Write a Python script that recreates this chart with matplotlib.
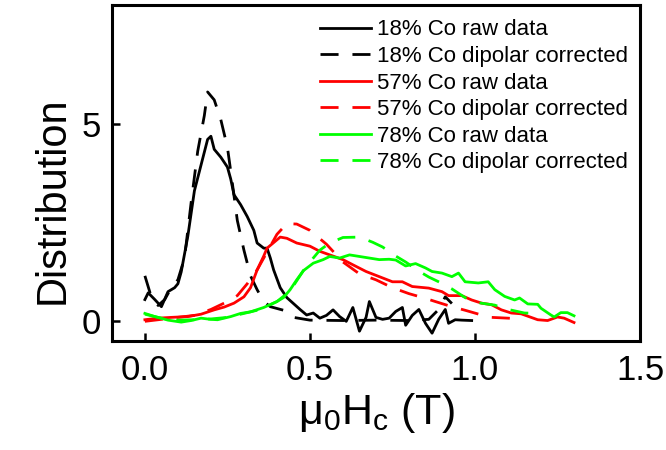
import matplotlib
matplotlib.use('Agg')
import matplotlib.pyplot as plt

plt.rcParams['font.family'] = ['Liberation Sans', 'DejaVu Sans']
plt.rcParams['mathtext.fontset'] = 'custom'
plt.rcParams['mathtext.rm'] = 'Liberation Sans'
plt.rcParams['mathtext.it'] = 'Liberation Sans:italic'

# 18% Co ###################################################
co18_raw_x = [0.00, 0.01, 0.03, 0.05, 0.07, 0.09, 0.10, 0.11, 0.13, 0.15,
              0.17, 0.19, 0.20, 0.21, 0.23, 0.25, 0.26, 0.27, 0.29, 0.31,
              0.33, 0.34, 0.36, 0.37, 0.38, 0.39, 0.41, 0.43, 0.45, 0.47,
              0.49, 0.51, 0.53, 0.55, 0.57, 0.59, 0.61, 0.63, 0.65, 0.67,
              0.68, 0.70, 0.72, 0.74, 0.76, 0.78, 0.79, 0.81, 0.83, 0.85,
              0.87, 0.89, 0.91, 0.92, 0.94, 0.96, 0.99]
co18_raw_y = [0.55, 0.72, 0.55, 0.37, 0.75, 0.85, 0.95, 1.25, 2.15, 3.30,
              3.95, 4.60, 4.68, 4.35, 4.15, 3.90, 3.60, 3.20, 2.95, 2.65,
              2.30, 1.98, 1.85, 1.85, 1.60, 1.30, 0.85, 0.60, 0.45, 0.30,
              0.16, 0.21, 0.08, 0.15, 0.29, 0.12, 0.00, 0.35, -0.25, 0.10,
              0.50, 0.10, 0.05, 0.08, 0.25, 0.35, -0.10, 0.15, 0.30, -0.05,
              -0.30, 0.05, 0.30, -0.05, 0.04, 0.03, 0.02]

co18_dip_x = [0.00, 0.02, 0.04, 0.06, 0.08, 0.10, 0.12, 0.14, 0.16, 0.18,
              0.19, 0.21, 0.23, 0.25, 0.26, 0.28, 0.30, 0.32, 0.34, 0.36,
              0.38, 0.42, 0.45, 0.50, 0.60, 0.70, 0.80, 0.86, 0.89, 0.91,
              0.93]
co18_dip_y = [1.15, 0.60, 0.40, 0.55, 0.85, 1.05, 1.60, 3.00, 4.30, 5.20,
              5.80, 5.60, 5.10, 4.40, 3.80, 2.55, 1.80, 1.15, 0.80, 0.50,
              0.37, 0.28, 0.10, 0.03, 0.02, 0.03, 0.02, 0.05, 0.30, 0.62,
              0.45]

# 57% Co ###################################################
co57_raw_x = [0.00, 0.04, 0.08, 0.13, 0.17, 0.21, 0.24, 0.27, 0.30, 0.32,
              0.34, 0.36, 0.37, 0.40, 0.41, 0.43, 0.46, 0.50, 0.53, 0.56,
              0.60, 0.63, 0.67, 0.71, 0.75, 0.78, 0.81, 0.86, 0.90, 0.92,
              0.96, 0.99, 1.02, 1.05, 1.08, 1.11, 1.14, 1.17, 1.19, 1.22,
              1.25, 1.27, 1.30]
co57_raw_y = [0.04, 0.08, 0.10, 0.12, 0.18, 0.29, 0.36, 0.46, 0.62, 0.85,
              1.30, 1.65, 1.85, 2.06, 2.13, 2.10, 1.98, 1.90, 1.77, 1.68,
              1.56, 1.43, 1.26, 1.13, 1.00, 1.00, 0.88, 0.84, 0.75, 0.65,
              0.65, 0.54, 0.46, 0.42, 0.29, 0.21, 0.19, 0.10, 0.04, 0.02,
              0.11, 0.08, -0.03]

co57_dip_x = [0.00, 0.05, 0.10, 0.15, 0.20, 0.25, 0.28, 0.31, 0.34, 0.37,
              0.40, 0.43, 0.46, 0.50, 0.55, 0.60, 0.65, 0.70, 0.75, 0.80,
              0.85, 0.88, 0.93, 0.97, 1.02, 1.05, 1.10, 1.14]
co57_dip_y = [0.00, 0.05, 0.10, 0.15, 0.30, 0.50, 0.65, 0.95, 1.30, 1.75,
              2.20, 2.47, 2.46, 2.30, 1.95, 1.50, 1.20, 1.05, 0.85, 0.70,
              0.58, 0.50, 0.37, 0.28, 0.16, 0.10, 0.08, 0.06]

# 78% Co ###################################################
co78_raw_x = [0.00, 0.03, 0.07, 0.11, 0.14, 0.17, 0.20, 0.22, 0.26, 0.29,
              0.32, 0.36, 0.40, 0.42, 0.44, 0.46, 0.48, 0.51, 0.54, 0.56,
              0.59, 0.62, 0.65, 0.68, 0.71, 0.74, 0.76, 0.79, 0.82, 0.85,
              0.87, 0.90, 0.93, 0.95, 0.97, 1.01, 1.04, 1.06, 1.09, 1.12,
              1.135, 1.16, 1.19, 1.20, 1.23, 1.24, 1.26, 1.28, 1.30]
co78_raw_y = [0.20, 0.12, 0.03, -0.02, 0.02, 0.08, 0.05, 0.04, 0.12, 0.20,
              0.24, 0.35, 0.50, 0.60, 0.80, 1.05, 1.28, 1.47, 1.56, 1.64,
              1.60, 1.68, 1.64, 1.60, 1.56, 1.57, 1.55, 1.40, 1.46, 1.35,
              1.26, 1.22, 1.13, 1.22, 1.00, 0.97, 1.00, 0.80, 0.63, 0.54,
              0.59, 0.44, 0.43, 0.33, 0.16, 0.11, 0.22, 0.22, 0.14]

co78_dip_x = [0.00, 0.05, 0.10, 0.15, 0.20, 0.25, 0.30, 0.35, 0.40, 0.43,
              0.45, 0.48, 0.50, 0.53, 0.56, 0.60, 0.65, 0.69, 0.72, 0.76,
              0.79, 0.83, 0.86, 0.90, 0.93, 0.97, 1.01, 1.06, 1.09, 1.15,
              1.20]
co78_dip_y = [0.18, 0.08, 0.03, 0.04, 0.06, 0.10, 0.20, 0.30, 0.50, 0.70,
              0.90, 1.28, 1.50, 1.80, 1.98, 2.12, 2.13, 2.00, 1.88, 1.65,
              1.50, 1.27, 1.12, 0.96, 0.82, 0.60, 0.47, 0.41, 0.32, 0.21,
              0.20]

# Plot #####################################################
fig = plt.figure(figsize=(6.66, 4.5), dpi=100)
ax = fig.add_axes([0.168, 0.242, 0.793, 0.747])

lw = 2.0
dash = (0, (6.5, 5))
ax.plot(co18_raw_x, co18_raw_y, color='black', lw=lw, label='18% Co raw data')
ax.plot(co18_dip_x, co18_dip_y, color='black', lw=lw, ls=dash, label='18% Co dipolar corrected')
ax.plot(co57_raw_x, co57_raw_y, color='#ff0000', lw=lw, label='57% Co raw data')
ax.plot(co57_dip_x, co57_dip_y, color='#ff0000', lw=lw, ls=dash, label='57% Co dipolar corrected')
ax.plot(co78_raw_x, co78_raw_y, color='#00ff00', lw=lw, label='78% Co raw data')
ax.plot(co78_dip_x, co78_dip_y, color='#00ff00', lw=lw, ls=dash, label='78% Co dipolar corrected')

ax.set_xlim(-0.1, 1.5)
ax.set_ylim(-0.5, 8)
ax.set_xticks([0.0, 0.5, 1.0, 1.5])
ax.set_xticklabels(['0.0', '0.5', '1.0', '1.5'])
ax.set_yticks([0, 5])
ax.tick_params(direction='in', length=6, width=1.8, labelsize=25)
ax.tick_params(axis='x', pad=9)
ax.tick_params(axis='y', pad=8)
for s in ax.spines.values():
    s.set_linewidth(2.2)

ax.set_xlabel(r'$\mathregular{\mu_0H_c}$ (T)', fontsize=31, labelpad=3)
ax.set_ylabel('Distribution', fontsize=30)
ax.yaxis.set_label_coords(-0.075, 0.42)

ax.legend(loc='upper left', bbox_to_anchor=(0.394, 0.957), frameon=False,
          fontsize=16, handlelength=2.3, handletextpad=0.27, labelspacing=0.25,
          borderpad=0, borderaxespad=0)

fig.savefig('out.png', dpi=100)
